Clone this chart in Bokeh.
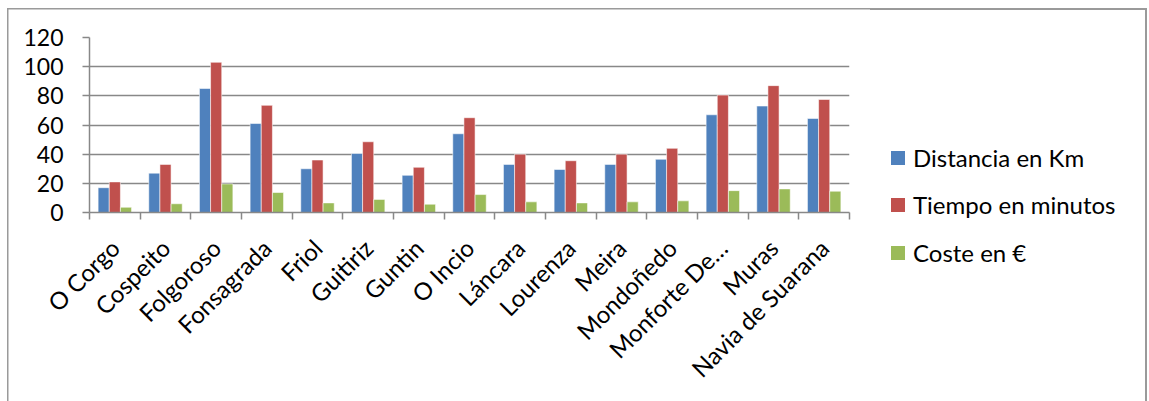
from math import pi
from bokeh.plotting import figure
from bokeh.layouts import row
from bokeh.models import Range1d, FixedTicker, ColumnDataSource, Div
from bokeh.transform import dodge
from bokeh.embed import file_html
from bokeh.resources import INLINE

categories = ["O Corgo", "Cospeito", "Folgoroso", "Fonsagrada", "Friol", "Guitiriz",
              "Guntin", "O Incio", "Láncara", "Lourenza", "Meira", "Mondoñedo",
              "Monforte De…", "Muras", "Navia de Suarana"]
distancia = [17, 27, 85, 61, 30, 40.5, 25.5, 54, 33, 29.5, 33, 36.5, 67, 73, 64.5]
tiempo = [21, 33, 103, 73.5, 36, 48.5, 31, 65, 40, 35.5, 40, 44, 80.5, 87, 77.5]
coste = [3.6, 6, 19.6, 13.7, 6.6, 9, 5.7, 12.3, 7.3, 6.6, 7.3, 8, 15, 16.2, 14.6]
series_names = ["Distancia en Km", "Tiempo en minutos", "Coste en €"]
colors = ["#4F81BD", "#C0504D", "#9BBB59"]
y_ticks = [0, 20, 40, 60, 80, 100, 120]

FONT = "Lato"
GRAY = "#888888"
BCOL = "#9a9a9a"
H = 401
W1 = 870
W2 = 1149 - W1

idx = list(range(len(categories)))
src = ColumnDataSource(dict(x=idx, distancia=distancia, tiempo=tiempo, coste=coste))

css1 = (f"linear-gradient({BCOL},{BCOL}) 7px 8px / 1.5px 100% no-repeat, "
        f"linear-gradient({BCOL},{BCOL}) 7px 8px / 100% 1.5px no-repeat, white")

p = figure(width=W1, height=H, output_backend="svg", toolbar_location=None,
           x_range=Range1d(-0.5, len(categories) - 0.5), y_range=Range1d(0, 120),
           min_border_left=89, min_border_right=W1 - 849, min_border_top=37,
           min_border_bottom=H - 212, styles={"background": css1})
p.outline_line_color = None
p.background_fill_color = "white"
p.border_fill_alpha = 0

bw = 0.22
for k, (col, c) in enumerate(zip(["distancia", "tiempo", "coste"], colors)):
    p.vbar(x=dodge("x", (k - 1) * bw, range=p.x_range), top=col, width=bw, bottom=0,
           source=src, fill_color=c, line_color="white", line_alpha=0.55, line_width=1)

# y axis
yax = p.yaxis[0]
yax.ticker = FixedTicker(ticks=y_ticks, minor_ticks=[])
yax.major_tick_out = 7
yax.major_tick_in = 0
yax.major_tick_line_color = GRAY
yax.major_tick_line_width = 1.5
yax.minor_tick_line_color = None
yax.axis_line_color = GRAY
yax.axis_line_width = 1.5
yax.major_label_text_font = FONT
yax.major_label_text_font_size = "23px"
yax.major_label_text_color = "black"
yax.major_label_standoff = 19

# x axis
xax = p.xaxis[0]
xax.ticker = FixedTicker(ticks=idx, minor_ticks=[i - 0.5 for i in range(len(categories) + 1)])
xax.major_label_overrides = {i: name for i, name in zip(idx, categories)}
xax.major_label_orientation = pi / 4
xax.major_tick_line_color = None
xax.major_tick_out = 0
xax.major_tick_in = 0
xax.minor_tick_out = 7
xax.minor_tick_in = 0
xax.minor_tick_line_color = GRAY
xax.minor_tick_line_width = 1.5
xax.axis_line_color = GRAY
xax.axis_line_width = 1.5
xax.major_label_text_font = FONT
xax.major_label_text_font_size = "24px"
xax.major_label_text_color = "black"
xax.major_label_standoff = 24

p.xgrid.visible = False
p.ygrid.grid_line_color = GRAY
p.ygrid.grid_line_width = 1.5
p.ygrid.ticker = FixedTicker(ticks=y_ticks)

# legend (HTML, to the right of the plot), with the chart frame's top/right edges
row_centers = [157.7, 205.2, 252.7]
edge_x = 1145 - W1
parts = [f'<div style="position:relative;width:{W2}px;height:{H}px;background:white;'
         f'font-family:{FONT};font-size:24px;color:black;overflow:hidden;">',
         f'<div style="position:absolute;left:0px;top:8px;width:{edge_x + 1.5}px;'
         f'height:1.5px;background:{BCOL};"></div>',
         f'<div style="position:absolute;left:{edge_x}px;top:8px;width:1.5px;'
         f'height:{H}px;background:{BCOL};"></div>']
for name, c, cy in zip(series_names, colors, row_centers):
    parts.append(f'<div style="position:absolute;left:{891 - W1}px;top:{cy - 7}px;'
                 f'width:14px;height:14px;background:{c};"></div>')
    parts.append(f'<div style="position:absolute;left:{913 - W1}px;top:{cy - 15}px;'
                 f'line-height:30px;height:30px;white-space:nowrap;">{name}</div>')
parts.append('</div>')
legend_div = Div(text="".join(parts), width=W2, height=H, margin=0)

layout = row(p, legend_div)
open("out.html", "w").write(file_html(layout, INLINE))
